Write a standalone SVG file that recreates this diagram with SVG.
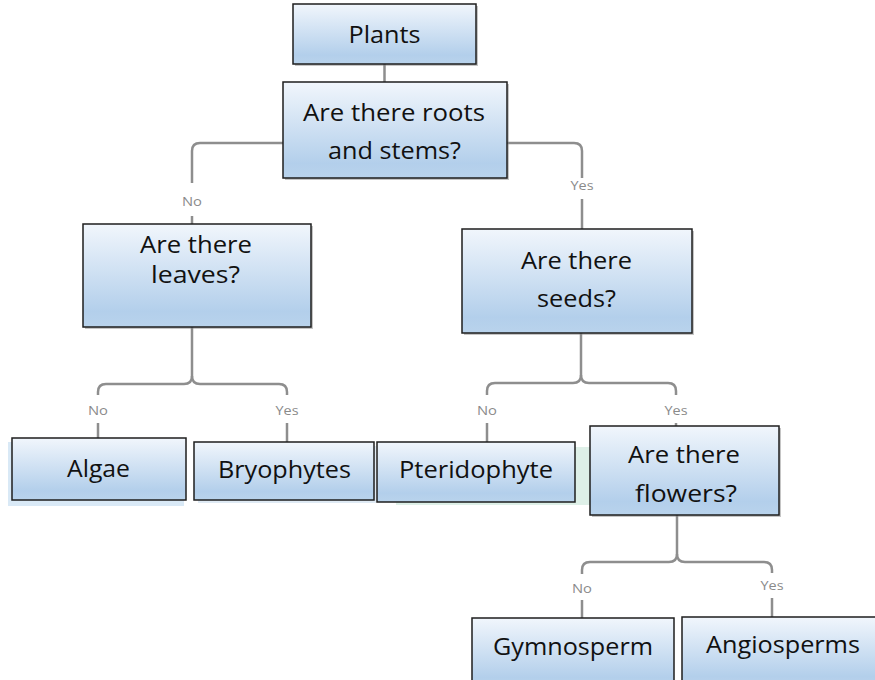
<svg xmlns="http://www.w3.org/2000/svg" width="875" height="680" viewBox="0 0 875 680">
<defs>
<linearGradient id="g" x1="0" y1="0" x2="0" y2="1">
<stop offset="0" stop-color="#f1f6fc"/>
<stop offset="0.85" stop-color="#b3cfeb"/>
<stop offset="1" stop-color="#b9d3ec"/>
</linearGradient>
</defs>
<style>
.box{fill:url(#g);stroke:#1e1e1e;stroke-width:1.5}
.sh{fill:#7f7f7f;opacity:0.45}
.t{font-family:"Open Sans","Noto Sans",sans-serif;font-size:24px;fill:#111;text-anchor:middle}
.lb{font-family:"Open Sans","Noto Sans",sans-serif;font-size:13px;fill:#8a8a8a;text-anchor:middle}
.c{fill:none;stroke:#8e8e8e;stroke-width:2.5}
</style>
<rect width="875" height="680" fill="#fff"/>
<g id="connectors">
<path class="c" d="M384.5 64 V82"/>
<path class="c" d="M283 143 H200 Q192 143 192 151 V183"/>
<path class="c" d="M192 216 V224"/>
<path class="c" d="M507 143 H574 Q582 143 582 151 V178"/>
<path class="c" d="M582 199 V229"/>
<path class="c" d="M192 327 V376 Q192 384 184 384 H106 Q98 384 98 392 V395"/>
<path class="c" d="M192 376 Q192 384 200 384 H279 Q287 384 287 392 V395"/>
<path class="c" d="M98 423 V438"/>
<path class="c" d="M287 423 V442"/>
<path class="c" d="M581 333 V375 Q581 383 573 383 H495 Q487 383 487 391 V395"/>
<path class="c" d="M581 375 Q581 383 589 383 H668 Q676 383 676 391 V395"/>
<path class="c" d="M487 423 V442"/>
<path class="c" d="M676 423 V426"/>
<path class="c" d="M677 515 V554 Q677 562 669 562 H590 Q582 562 582 570 V574"/>
<path class="c" d="M677 554 Q677 562 685 562 H764 Q772 562 772 570 V573"/>
<path class="c" d="M582 600 V618"/>
<path class="c" d="M772 598 V617"/>
<text class="lb" x="192" y="206" textLength="20" lengthAdjust="spacingAndGlyphs">No</text>
<text class="lb" x="582" y="190" textLength="23" lengthAdjust="spacingAndGlyphs">Yes</text>
<text class="lb" x="98" y="415" textLength="20" lengthAdjust="spacingAndGlyphs">No</text>
<text class="lb" x="287" y="415" textLength="23" lengthAdjust="spacingAndGlyphs">Yes</text>
<text class="lb" x="487" y="415" textLength="20" lengthAdjust="spacingAndGlyphs">No</text>
<text class="lb" x="676" y="415" textLength="23" lengthAdjust="spacingAndGlyphs">Yes</text>
<text class="lb" x="582" y="593" textLength="20" lengthAdjust="spacingAndGlyphs">No</text>
<text class="lb" x="772" y="590" textLength="23" lengthAdjust="spacingAndGlyphs">Yes</text>
</g>
<g id="plants">
<rect class="sh" x="295" y="6" width="183" height="60"/>
<rect class="box" x="293" y="4" width="183" height="60"/>
<text class="t" x="384.5" y="43" font-size="25" textLength="72" lengthAdjust="spacingAndGlyphs">Plants</text>
</g>
<g id="roots">
<rect class="sh" x="285" y="84" width="224" height="96"/>
<rect class="box" x="283" y="82" width="224" height="96"/>
<text class="t" x="394" y="121" textLength="182" lengthAdjust="spacingAndGlyphs">Are there roots</text>
<text class="t" x="394.5" y="159" textLength="133" lengthAdjust="spacingAndGlyphs">and stems?</text>
</g>
<g id="leaves">
<rect class="sh" x="85" y="226" width="228" height="103"/>
<rect class="box" x="83" y="224" width="228" height="103"/>
<text class="t" x="196" y="253" textLength="112" lengthAdjust="spacingAndGlyphs">Are there</text>
<text class="t" x="195.5" y="283" textLength="89" lengthAdjust="spacingAndGlyphs">leaves?</text>
</g>
<g id="seeds">
<rect class="sh" x="464" y="231" width="230" height="104"/>
<rect class="box" x="462" y="229" width="230" height="104"/>
<text class="t" x="576.5" y="269" textLength="111" lengthAdjust="spacingAndGlyphs">Are there</text>
<text class="t" x="576.5" y="307" textLength="79" lengthAdjust="spacingAndGlyphs">seeds?</text>
</g>
<g id="algae">
<rect x="8" y="442" width="176" height="64" fill="#d9e9f6"/>
<rect class="box" x="12" y="438" width="174" height="62"/>
<text class="t" x="98.5" y="477" textLength="63" lengthAdjust="spacingAndGlyphs">Algae</text>
</g>
<g id="bryophytes">
<rect x="198" y="446" width="178" height="57" fill="#dfeaf4"/>
<rect class="box" x="194" y="442" width="180" height="58"/>
<text class="t" x="284.5" y="478" textLength="133" lengthAdjust="spacingAndGlyphs">Bryophytes</text>
</g>
<g id="pteridophyte">
<rect x="396" y="447" width="195" height="58" fill="#def0e8"/>
<rect class="box" x="377" y="442" width="198" height="60"/>
<text class="t" x="476" y="478" textLength="154" lengthAdjust="spacingAndGlyphs">Pteridophyte</text>
</g>
<g id="flowers">
<rect class="sh" x="592" y="428" width="189" height="89"/>
<rect class="box" x="590" y="426" width="189" height="89"/>
<text class="t" x="684" y="463" textLength="112" lengthAdjust="spacingAndGlyphs">Are there</text>
<text class="t" x="686" y="502" textLength="102" lengthAdjust="spacingAndGlyphs">flowers?</text>
</g>
<g id="gymnosperm">
<rect class="box" x="472" y="618" width="202" height="70"/>
<text class="t" x="573" y="655" textLength="160" lengthAdjust="spacingAndGlyphs">Gymnosperm</text>
</g>
<g id="angiosperms">
<rect class="box" x="682" y="617" width="200" height="70"/>
<text class="t" x="783" y="653" textLength="154" lengthAdjust="spacingAndGlyphs">Angiosperms</text>
</g>
</svg>
